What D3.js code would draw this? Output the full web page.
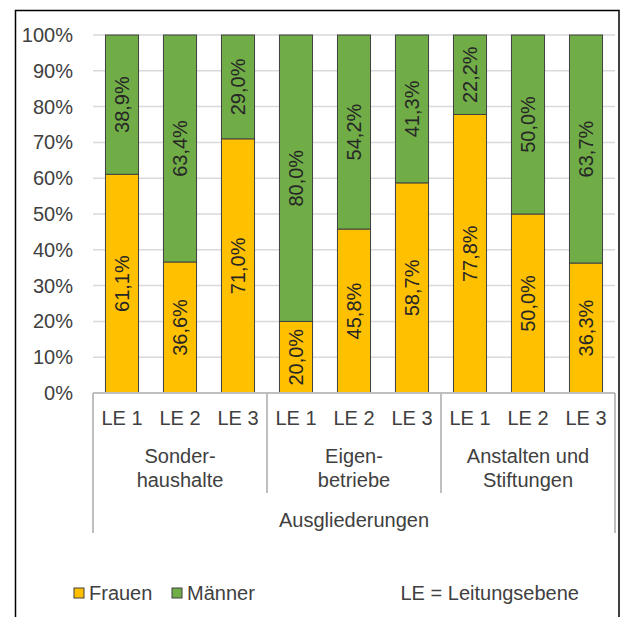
<!DOCTYPE html>
<html>
<head>
<meta charset="utf-8">
<script src="https://cdn.jsdelivr.net/npm/d3@7"></script>
<style>
  body { margin: 0; background: #fff; }
  svg text { font-family: "Liberation Sans", Arial, sans-serif; }
</style>
</head>
<body>
<div id="chart"></div>
<script>
const levels = ["LE 1", "LE 2", "LE 3"];
const groups = [["Sonder-", "haushalte"], ["Eigen-", "betriebe"], ["Anstalten und", "Stiftungen"]];
const outerLabel = "Ausgliederungen";
const frauen = [61.1, 36.6, 71.0, 20.0, 45.8, 58.7, 77.8, 50.0, 36.3];
const maenner = [38.9, 63.4, 29.0, 80.0, 54.2, 41.3, 22.2, 50.0, 63.7];
const yTicks = [0, 10, 20, 30, 40, 50, 60, 70, 80, 90, 100];
const seriesNames = ["Frauen", "Männer"];
const note = "LE = Leitungsebene";

const W = 621, H = 617;
const margin = { top: 35, left: 93, right: 6, bottom: 224 };
const width = W - margin.left - margin.right;
const height = H - margin.top - margin.bottom;
const fs = 20;

const color = d3.scaleOrdinal().domain(seriesNames).range(["#FFC000", "#70AD47"]);

const keys = d3.range(frauen.length);
const rows = keys.map(i => ({ i, Frauen: frauen[i], "Männer": maenner[i] }));
const stacked = d3.stack().keys(seriesNames)(rows);

const svg = d3.select("#chart").append("svg")
  .attr("width", W).attr("height", H);

// outer frame
svg.append("rect")
  .attr("x", 15.5).attr("y", 10.5)
  .attr("width", 603.5).attr("height", 640)
  .attr("fill", "none").attr("stroke", "#000").attr("stroke-width", 1.5);

const g = svg.append("g").attr("transform", `translate(${margin.left},${margin.top})`);

const x = d3.scaleBand().domain(keys).range([0, width]).paddingInner(0.43).paddingOuter(0.215);
const y = d3.scaleLinear().domain([0, 100]).range([height, 0]);

// gridlines
g.append("g")
  .selectAll("line")
  .data(yTicks.slice(1))
  .join("line")
  .attr("x1", 0).attr("x2", width)
  .attr("y1", d => y(d)).attr("y2", d => y(d))
  .attr("stroke", "#d9d9d9").attr("stroke-width", 1.5);

// y axis
const yAxis = g.append("g")
  .call(d3.axisLeft(y).tickValues(yTicks).tickFormat(d => d + "%").tickSize(0).tickPadding(20));
yAxis.select(".domain").remove();
yAxis.selectAll("text").attr("font-size", fs).attr("fill", "#404040")
  .attr("font-family", "Liberation Sans, Arial, sans-serif");

// bars
const layer = g.append("g").selectAll("g")
  .data(stacked)
  .join("g")
  .attr("fill", d => color(d.key));

layer.selectAll("rect")
  .data(d => d)
  .join("rect")
  .attr("x", d => x(d.data.i))
  .attr("y", d => y(d[1]))
  .attr("width", x.bandwidth())
  .attr("height", d => y(d[0]) - y(d[1]))
  .attr("stroke", "#404040").attr("stroke-width", 1);

// value labels
const fmt = v => v.toFixed(1).replace(".", ",") + "%";
layer.selectAll("text")
  .data(d => d.map(v => ({ v, val: v[1] - v[0] })))
  .join("text")
  .attr("transform", d => `translate(${x(d.v.data.i) + x.bandwidth() / 2},${(y(d.v[0]) + y(d.v[1])) / 2}) rotate(-90)`)
  .attr("text-anchor", "middle")
  .attr("dy", "0.35em")
  .attr("font-size", fs)
  .attr("fill", "#262626")
  .text(d => fmt(d.val));

// category axis
const axisColor = "#bfbfbf";
const cat = g.append("g").attr("transform", `translate(0,${height})`);
cat.append("line")
  .attr("x1", 0).attr("x2", width).attr("y1", 0).attr("y2", 0)
  .attr("stroke", axisColor).attr("stroke-width", 2);

cat.selectAll(".lvl")
  .data(keys)
  .join("text")
  .attr("x", d => x(d) + x.bandwidth() / 2)
  .attr("y", 32)
  .attr("text-anchor", "middle")
  .attr("font-size", fs)
  .attr("fill", "#404040")
  .text(d => levels[d % 3]);

const groupW = width / groups.length;
cat.selectAll(".div")
  .data(d3.range(groups.length + 1))
  .join("line")
  .attr("x1", d => d * groupW).attr("x2", d => d * groupW)
  .attr("y1", 0)
  .attr("y2", d => (d === 0 || d === groups.length) ? 140 : 100)
  .attr("stroke", axisColor).attr("stroke-width", 2);

const grpText = cat.selectAll(".grp")
  .data(groups)
  .join("text")
  .attr("text-anchor", "middle")
  .attr("font-size", fs)
  .attr("fill", "#404040");
grpText.selectAll("tspan")
  .data((d, i) => d.map(s => ({ s, i })))
  .join("tspan")
  .attr("x", d => d.i * groupW + groupW / 2)
  .attr("y", (d, j) => 70 + j * 24)
  .text(d => d.s);

cat.append("text")
  .attr("x", width / 2).attr("y", 134)
  .attr("text-anchor", "middle")
  .attr("font-size", fs)
  .attr("fill", "#404040")
  .text(outerLabel);

// legend
const legend = svg.append("g").attr("transform", "translate(74,593)");
const legX = [0, 98];
seriesNames.forEach((s, i) => {
  legend.append("rect")
    .attr("x", legX[i]).attr("y", -5)
    .attr("width", 10).attr("height", 10)
    .attr("fill", color(s)).attr("stroke", "#404040").attr("stroke-width", 1);
  legend.append("text")
    .attr("x", legX[i] + 15).attr("y", 0).attr("dy", "0.35em")
    .attr("font-size", fs).attr("fill", "#404040")
    .text(s);
});

svg.append("text")
  .attr("x", 579).attr("y", 593).attr("dy", "0.35em")
  .attr("text-anchor", "end")
  .attr("font-size", fs).attr("fill", "#404040")
  .text(note);
</script>
</body>
</html>
